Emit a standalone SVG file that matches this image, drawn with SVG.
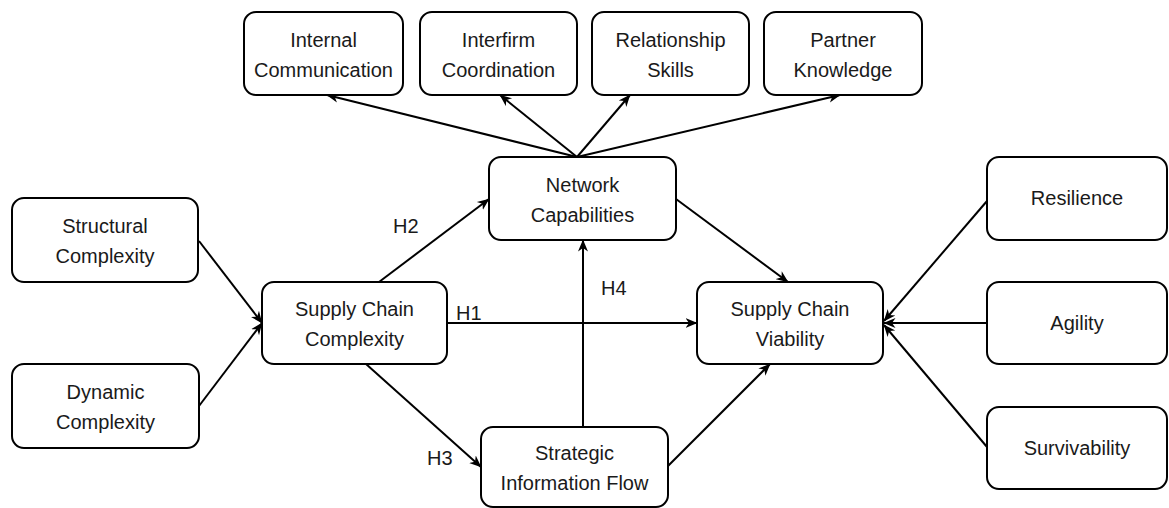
<svg xmlns="http://www.w3.org/2000/svg" width="1169" height="508" viewBox="0 0 1169 508">
<style>
.box{fill:#fff;stroke:#000;stroke-width:2}
.t{font-family:"Liberation Sans",Arial,sans-serif;font-size:20px;fill:#1a1a1a;text-anchor:middle}
.lbl{font-family:"Liberation Sans",Arial,sans-serif;font-size:20px;fill:#1a1a1a}
.c{stroke:#000;stroke-width:2;fill:none;marker-end:url(#arr)}
</style>
<defs>
<marker id="arr" viewBox="0 0 12 12" refX="11.5" refY="6" markerWidth="12" markerHeight="12" markerUnits="userSpaceOnUse" orient="auto">
<path d="M0,1 L12,6 L0,11 L3.5,6 z" fill="#000"/>
</marker>
</defs>
<rect width="1169" height="508" fill="#fff"/>
<g id="connectors">
<line class="c" x1="577" y1="157" x2="327" y2="95"/>
<line class="c" x1="577" y1="157" x2="500" y2="95"/>
<line class="c" x1="577" y1="157" x2="630" y2="95"/>
<line class="c" x1="577" y1="157" x2="840" y2="95"/>
<line class="c" x1="199" y1="241" x2="262" y2="323"/>
<line class="c" x1="199" y1="406" x2="262" y2="323"/>
<line class="c" x1="379" y1="282" x2="489" y2="199"/>
<line class="c" x1="447" y1="323" x2="697" y2="323"/>
<line class="c" x1="366" y1="364" x2="481" y2="467"/>
<line class="c" x1="583" y1="427" x2="583" y2="240"/>
<line class="c" x1="676" y1="199" x2="788" y2="282"/>
<line class="c" x1="667" y1="467" x2="770" y2="364"/>
<line class="c" x1="987" y1="201" x2="884" y2="321"/>
<line class="c" x1="987" y1="323" x2="884" y2="323"/>
<line class="c" x1="987" y1="447" x2="884" y2="325"/>
</g>
<g id="labels">
<text class="lbl" x="393" y="233">H2</text>
<text class="lbl" x="456" y="320">H1</text>
<text class="lbl" x="427" y="465">H3</text>
<text class="lbl" x="601" y="295">H4</text>
</g>
<g id="internal-communication">
<rect class="box" x="244" y="12" width="159" height="83" rx="12"/>
<text class="t" x="323.5" y="47">Internal</text>
<text class="t" x="323.5" y="77">Communication</text>
</g>
<g id="interfirm-coordination">
<rect class="box" x="420" y="12" width="157" height="83" rx="12"/>
<text class="t" x="498.5" y="47">Interfirm</text>
<text class="t" x="498.5" y="77">Coordination</text>
</g>
<g id="relationship-skills">
<rect class="box" x="592" y="12" width="157" height="83" rx="12"/>
<text class="t" x="670.5" y="47">Relationship</text>
<text class="t" x="670.5" y="77">Skills</text>
</g>
<g id="partner-knowledge">
<rect class="box" x="764" y="12" width="158" height="83" rx="12"/>
<text class="t" x="843" y="47">Partner</text>
<text class="t" x="843" y="77">Knowledge</text>
</g>
<g id="network-capabilities">
<rect class="box" x="489" y="157" width="187" height="83" rx="12"/>
<text class="t" x="582.5" y="192">Network</text>
<text class="t" x="582.5" y="222">Capabilities</text>
</g>
<g id="structural-complexity">
<rect class="box" x="12" y="198" width="186" height="84" rx="12"/>
<text class="t" x="105" y="233">Structural</text>
<text class="t" x="105" y="263">Complexity</text>
</g>
<g id="supply-chain-complexity">
<rect class="box" x="262" y="282" width="185" height="82" rx="12"/>
<text class="t" x="354.5" y="316">Supply Chain</text>
<text class="t" x="354.5" y="346">Complexity</text>
</g>
<g id="dynamic-complexity">
<rect class="box" x="12" y="364" width="187" height="84" rx="12"/>
<text class="t" x="105.5" y="399">Dynamic</text>
<text class="t" x="105.5" y="429">Complexity</text>
</g>
<g id="strategic-information-flow">
<rect class="box" x="481" y="427" width="187" height="80" rx="12"/>
<text class="t" x="574.5" y="460">Strategic</text>
<text class="t" x="574.5" y="490">Information Flow</text>
</g>
<g id="supply-chain-viability">
<rect class="box" x="697" y="282" width="186" height="82" rx="12"/>
<text class="t" x="790" y="316">Supply Chain</text>
<text class="t" x="790" y="346">Viability</text>
</g>
<g id="resilience">
<rect class="box" x="987" y="157" width="180" height="83" rx="12"/>
<text class="t" x="1077" y="205">Resilience</text>
</g>
<g id="agility">
<rect class="box" x="987" y="282" width="180" height="82" rx="12"/>
<text class="t" x="1077" y="330">Agility</text>
</g>
<g id="survivability">
<rect class="box" x="987" y="407" width="180" height="82" rx="12"/>
<text class="t" x="1077" y="455">Survivability</text>
</g>
</svg>
